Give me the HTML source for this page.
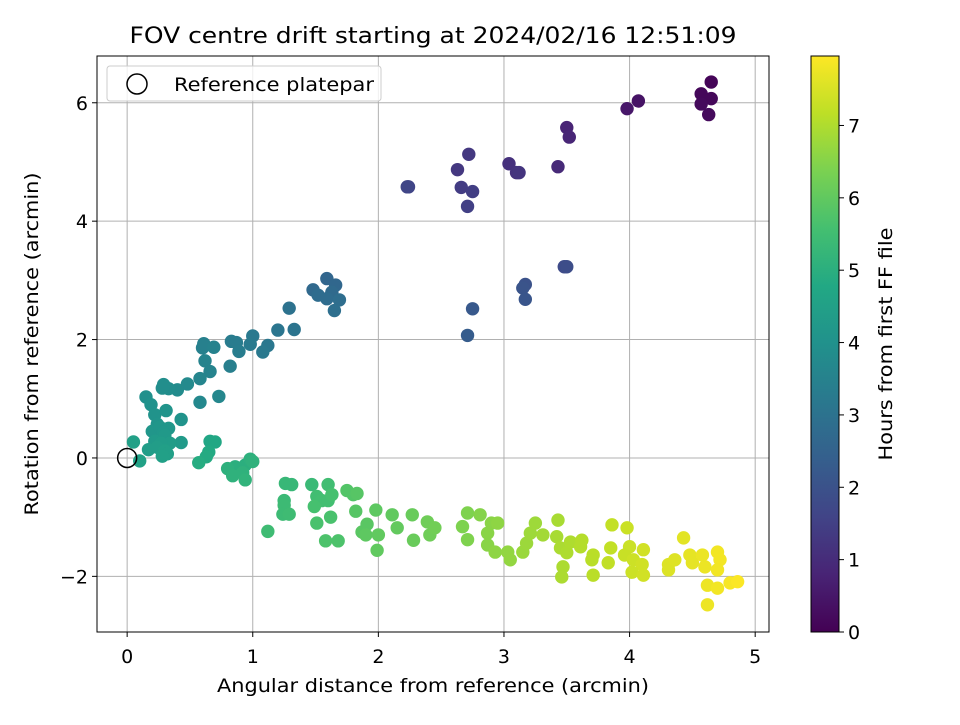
<!DOCTYPE html>
<html><head><meta charset="utf-8"><style>
body{margin:0;background:#fff;}
svg text{font-family:"DejaVu Sans","Liberation Sans",sans-serif;}
</style></head><body>
<svg id="chart" width="960" height="720" xmlns="http://www.w3.org/2000/svg">
<defs>
<linearGradient id="vir" x1="0" y1="1" x2="0" y2="0">
<stop offset="0" stop-color="#440154"/><stop offset="0.1" stop-color="#482475"/><stop offset="0.2" stop-color="#414487"/><stop offset="0.3" stop-color="#355f8d"/><stop offset="0.4" stop-color="#2a788e"/><stop offset="0.5" stop-color="#21918c"/><stop offset="0.6" stop-color="#22a884"/><stop offset="0.7" stop-color="#44bf70"/><stop offset="0.8" stop-color="#7ad151"/><stop offset="0.9" stop-color="#bddf26"/><stop offset="1" stop-color="#fde725"/>
</linearGradient>
<clipPath id="pc"><rect x="97" y="56" width="672" height="576"/></clipPath>
</defs>
<text x="433" y="43" font-size="22" text-anchor="middle" textLength="607" lengthAdjust="spacingAndGlyphs">FOV centre drift starting at 2024/02/16 12:51:09</text>
<g id="grid"></g>
<g id="axes"></g>
<g id="points" clip-path="url(#pc)"></g>
<rect x="97" y="56" width="672" height="576" fill="none" stroke="#000" stroke-width="1"/>
<g>
<rect x="107" y="66" width="274" height="35" rx="3" fill="#fff" fill-opacity="0.8" stroke="#ccc"/>
<circle cx="137" cy="84" r="10" fill="none" stroke="#000" stroke-width="1.5"/>
<text x="174" y="91" font-size="19" textLength="200" lengthAdjust="spacingAndGlyphs">Reference platepar</text>
</g>
<text x="433" y="692" font-size="19" text-anchor="middle" textLength="432" lengthAdjust="spacingAndGlyphs">Angular distance from reference (arcmin)</text>
<text transform="translate(38,344) rotate(-90)" font-size="19" text-anchor="middle" textLength="343" lengthAdjust="spacingAndGlyphs">Rotation from reference (arcmin)</text>
<rect x="811" y="56" width="28" height="576" fill="url(#vir)" stroke="#000" stroke-width="1"/>
<g id="cbticks"></g>
<text transform="translate(892,344) rotate(-90)" font-size="19" text-anchor="middle" textLength="233" lengthAdjust="spacingAndGlyphs">Hours from first FF file</text>
</svg>
<script>
const xTicks=[0,1,2,3,4,5];
const yTicks=[-2,0,2,4,6];
const yTickLabels=["\u22122","0","2","4","6"];
const cTicks=[0,1,2,3,4,5,6,7];
const refPoint=[0,0];
const xs=[4.65,4.57,4.65,4.57,4.63,4.07,3.98,3.5,3.52,3.43,3.04,3.1,3.12,2.72,2.63,2.66,2.75,2.71,2.24,2.23,3.48,3.5,3.17,3.15,3.17,2.75,2.71,
1.59,1.66,1.48,1.63,1.52,1.59,1.69,1.65,1.29,1.33,1.2,1.12,1.08,1.0,0.98,0.83,0.87,0.89,0.82,0.6,0.61,0.69,0.62,0.66,0.58,0.73,0.58,0.48,0.4,0.33,0.29,0.28,0.15,0.19,0.22,0.43,0.31,0.24,0.2,0.26,0.33,0.29,0.3,0.22,0.43,0.34,0.27,0.17,0.24,0.3,0.32,0.28,0.05,0.1,
0.66,0.7,0.65,0.63,0.57,0.86,0.94,0.98,1.0,0.8,0.84,0.92,0.94,
1.26,1.31,1.47,1.25,1.25,1.24,1.29,1.12,1.6,1.51,1.55,1.6,1.63,1.49,1.51,1.62,1.58,1.68,1.75,1.8,1.83,1.82,1.87,1.91,1.9,1.98,2.0,1.99,
2.11,2.15,2.27,2.28,2.39,2.41,2.45,2.71,2.67,2.71,2.81,2.9,2.95,2.87,2.87,2.93,3.03,3.05,3.15,3.18,3.25,3.21,3.31,3.43,3.42,3.45,3.5,3.47,3.46,3.53,3.62,3.61,3.71,3.7,3.71,3.85,3.83,3.86,3.98,4.0,3.96,4.03,4.11,4.1,4.02,4.11,4.31,4.31,4.36,4.43,4.48,4.5,4.58,4.6,4.7,4.72,4.7,4.62,4.7,4.8,4.86,4.62];
const ys=[6.35,6.15,6.07,5.98,5.8,6.03,5.9,5.58,5.42,4.92,4.97,4.82,4.82,5.13,4.87,4.57,4.5,4.25,4.58,4.58,3.23,3.23,2.93,2.87,2.68,2.52,2.07,
3.03,2.92,2.84,2.8,2.75,2.69,2.67,2.49,2.53,2.17,2.16,1.9,1.79,2.06,1.92,1.97,1.95,1.8,1.55,1.86,1.93,1.87,1.64,1.46,1.34,1.04,0.94,1.25,1.15,1.17,1.24,1.18,1.03,0.9,0.73,0.65,0.8,0.57,0.45,0.52,0.5,0.43,0.38,0.28,0.26,0.25,0.25,0.14,0.18,0.12,0.07,0.03,0.27,-0.05,
0.28,0.27,0.1,0.02,-0.08,-0.15,-0.12,-0.02,-0.06,-0.18,-0.3,-0.25,-0.37,
-0.43,-0.45,-0.45,-0.72,-0.8,-0.95,-0.95,-1.24,-0.45,-0.65,-0.72,-0.72,-0.62,-0.82,-1.1,-1.0,-1.4,-1.4,-0.55,-0.62,-0.6,-0.9,-1.25,-1.12,-1.3,-0.88,-1.3,-1.56,
-0.96,-1.18,-0.96,-1.39,-1.08,-1.3,-1.18,-0.93,-1.16,-1.38,-0.96,-1.1,-1.1,-1.27,-1.47,-1.59,-1.59,-1.72,-1.59,-1.44,-1.1,-1.27,-1.3,-1.05,-1.33,-1.52,-1.6,-1.84,-2.01,-1.42,-1.39,-1.5,-1.64,-1.72,-1.98,-1.52,-1.77,-1.13,-1.18,-1.5,-1.64,-1.72,-1.55,-1.8,-1.93,-1.98,-1.8,-1.89,-1.72,-1.35,-1.64,-1.77,-1.64,-1.84,-1.59,-1.72,-1.89,-2.15,-2.2,-2.11,-2.09,-2.48];
const hours=[0.1,0.15,0.15,0.2,0.2,0.4,0.5,0.8,0.85,0.95,1.1,1.15,1.2,1.3,1.3,1.4,1.45,1.5,1.6,1.65,1.8,1.85,2.0,2.05,2.1,2.2,2.3,
2.6,2.65,2.7,2.75,2.8,2.8,2.85,2.9,3.0,3.05,3.1,3.15,3.2,3.2,3.25,3.3,3.3,3.35,3.4,3.45,3.45,3.5,3.55,3.55,3.6,3.65,3.7,3.75,3.8,3.85,3.9,3.9,3.95,4.0,4.05,4.05,4.1,4.1,4.15,4.15,4.2,4.2,4.25,4.3,4.3,4.35,4.35,4.4,4.4,4.45,4.45,4.5,4.5,4.55,
4.7,4.75,4.8,4.85,4.9,5.0,5.0,5.05,5.1,5.05,5.1,5.1,5.15,
5.3,5.3,5.35,5.35,5.4,5.4,5.45,5.45,5.5,5.5,5.55,5.55,5.6,5.6,5.65,5.65,5.7,5.7,5.8,5.8,5.85,5.85,5.9,5.9,5.95,5.95,6.0,6.0,
6.0,6.03,6.1,6.12,6.2,6.2,6.23,6.42,6.4,6.42,6.5,6.56,6.6,6.55,6.55,6.6,6.65,6.67,6.75,6.77,6.8,6.8,6.85,6.92,6.92,6.95,6.98,6.96,6.96,7.0,7.07,7.06,7.13,7.12,7.13,7.23,7.21,7.24,7.32,7.33,7.3,7.35,7.41,7.4,7.35,7.41,7.55,7.55,7.58,7.63,7.67,7.68,7.73,7.75,7.82,7.83,7.82,7.76,7.82,7.88,7.93,7.76];
const NS="http://www.w3.org/2000/svg";
const X0=97,X1=769,Y0=56,Y1=632,xmin=-0.24,xmax=5.11,ymin=-2.94,ymax=6.79,cmax=7.96;
function sx(v){return X0+(v-xmin)/(xmax-xmin)*(X1-X0);}
function sy(v){return Y1-(v-ymin)/(ymax-ymin)*(Y1-Y0);}
function cy(v){return 632-v/cmax*576;}
const vir=[[68,1,84],[72,36,117],[65,68,135],[53,95,141],[42,120,142],[33,145,140],[34,168,132],[68,191,112],[122,209,81],[189,223,38],[253,231,37]];
function color(t){let f=Math.max(0,Math.min(1,t/cmax))*10;let i=Math.min(9,Math.floor(f));let r=f-i;let a=vir[i],b=vir[i+1];
return "rgb("+a.map((c,k)=>Math.round(c+(b[k]-c)*r)).join(",")+")";}
function mk(tag,attrs,parent){const e=document.createElementNS(NS,tag);for(const k in attrs)e.setAttribute(k,attrs[k]);parent.appendChild(e);return e;}
const grid=document.getElementById('grid'),axes=document.getElementById('axes'),pts=document.getElementById('points'),cb=document.getElementById('cbticks');
xTicks.forEach(v=>{const x=sx(v);
const g=mk('line',{x1:x,x2:x,y1:Y0,y2:Y1,stroke:'#b0b0b0','stroke-width':1},grid);


const t=mk('line',{x1:x,x2:x,y1:Y1,y2:Y1+5,stroke:'#000'},axes);


const l=mk('text',{x:x,y:Y1+31,'font-size':19,'text-anchor':'middle'},axes);l.textContent=String(v);

});
yTicks.forEach((v,i)=>{const y=sy(v);
const g=mk('line',{x1:X0,x2:X1,y1:y,y2:y,stroke:'#b0b0b0','stroke-width':1},grid);


const t=mk('line',{x1:X0-5,x2:X0,y1:y,y2:y,stroke:'#000'},axes);


const l=mk('text',{x:X0-9,y:y+7,'font-size':19,'text-anchor':'end'},axes);l.textContent=yTickLabels[i];

});
xs.forEach((v,i)=>{const c=mk('circle',{cx:sx(v),cy:sy(ys[i]),r:6.7,fill:color(hours[i])},pts);

});
const rc=mk('circle',{cx:sx(refPoint[0]),cy:sy(refPoint[1]),r:9.5,fill:'none',stroke:'#000','stroke-width':1.5},pts);


cTicks.forEach(v=>{const y=cy(v);
const t=mk('line',{x1:839,x2:844,y1:y,y2:y,stroke:'#000'},cb);


const l=mk('text',{x:848,y:y+7,'font-size':19},cb);l.textContent=String(v);

});
</script>
</body></html>
